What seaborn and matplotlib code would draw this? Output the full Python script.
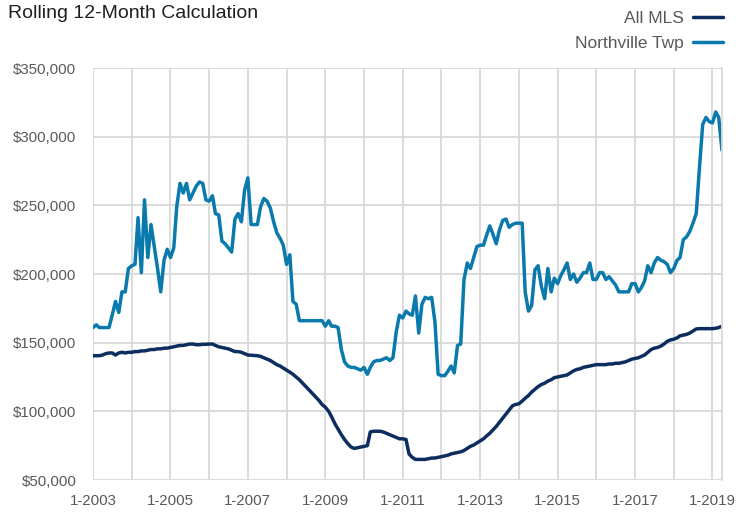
import matplotlib
matplotlib.use("Agg")
import matplotlib.pyplot as plt
import matplotlib.ticker as mticker
import pandas as pd
import seaborn as sns

# Rolling 12-month median sale price, in thousands of dollars, Jan 2003 - Apr 2019
all_mls = [
    140.5, 140.5, 140.5, 141, 142, 142.5, 142.5, 141, 142.5, 143, 142.5, 143,      # 2003
    143, 143.5, 143.5, 144, 144, 144.5, 145, 145, 145.5, 145.5, 146, 146,          # 2004
    146.5, 147, 147.5, 148, 148, 148.5, 149, 149, 148.5, 148.5, 148.8, 148.8,      # 2005
    149, 149, 148, 147, 146.5, 146, 145.5, 144.5, 143.5, 143.5, 143, 142,          # 2006
    141, 140.8, 140.7, 140.5, 140, 139, 138, 137, 135.5, 134, 133, 131.5,          # 2007
    130, 128.5, 127, 125, 123, 120.5, 118, 115.5, 113, 110.5, 108, 105,            # 2008
    103, 100, 96, 91, 87, 83, 79.5, 76.5, 74, 73, 73.5, 74,                        # 2009
    74.5, 75, 85, 85.5, 85.5, 85.5, 85, 84, 83, 82, 81, 80,                        # 2010
    80, 79.5, 69, 66.5, 65, 65, 65, 65, 65.5, 66, 66, 66.5,                        # 2011
    67, 67.5, 68, 69, 69.5, 70, 70.5, 71.5, 73, 74.5, 75.5, 77,                    # 2012
    78.5, 80, 82, 84, 86.5, 89, 92, 95, 98, 101, 104, 105,                         # 2013
    105.5, 107.5, 109.5, 111.5, 114, 116, 118, 119.5, 120.5, 122, 123, 124.5,      # 2014
    125, 125.5, 126, 126.5, 128, 129.5, 130.5, 131, 132, 132.5, 133, 133.5,        # 2015
    134, 134, 134, 134, 134.5, 134.5, 135, 135, 135.5, 136, 137, 138,              # 2016
    138.5, 139, 140, 141, 143, 145, 146, 146.5, 147.5, 149, 151, 152,              # 2017
    152.5, 153.5, 155, 155.5, 156, 157, 158.5, 160, 160.2, 160.2, 160.2, 160.2,    # 2018
    160.2, 160.5, 161, 162,                                                        # 2019
]

northville_twp = [
    161, 163, 161, 161, 161, 161, 170, 180, 172, 187, 187, 204,                    # 2003
    206, 207, 241, 201, 254, 212, 236, 220, 204, 187, 210, 218,                    # 2004
    212, 219, 249, 266, 259, 266, 254, 259, 264, 267, 266, 254,                    # 2005
    253, 257, 244, 243, 224, 222, 219, 216, 240, 244, 238, 261,                    # 2006
    270, 236, 236, 236, 249, 255, 253, 248, 238, 230, 226, 221,                    # 2007
    207, 214, 180, 178, 166, 166, 166, 166, 166, 166, 166, 166,                    # 2008
    162, 166, 162, 162, 161, 145, 136, 133, 132, 132, 131, 130,                    # 2009
    132, 127, 132, 136, 137, 137, 138, 139, 137, 139, 158, 170,                    # 2010
    168, 173, 171, 170, 184, 157, 178, 183, 182, 183, 165, 127,                    # 2011
    126, 126, 129, 133, 128, 148, 149, 196, 208, 204, 212, 220,                    # 2012
    221, 221, 228, 235, 229, 222, 232, 239, 240, 234, 236, 237,                    # 2013
    237, 237, 187, 173, 177, 203, 206, 191, 182, 204, 187, 197,                    # 2014
    193, 199, 203, 208, 196, 200, 194, 197, 201, 201, 208, 196,                    # 2015
    196, 201, 201, 196, 198, 195, 192, 187, 187, 187, 187, 193,                    # 2016
    193, 187, 190, 195, 206, 201, 208, 212, 210, 209, 207, 201,                    # 2017
    204, 210, 212, 225, 227, 231, 237, 244, 278, 309, 314, 311,                    # 2018
    310, 318, 314, 290,                                                            # 2019
]

series_names = ["All MLS", "Northville Twp"]
series_colors = ["#0c2d5e", "#0a7aad"]

x_tick_labels = ["1-2003", "", "1-2005", "", "1-2007", "", "1-2009", "", "1-2011",
                 "", "1-2013", "", "1-2015", "", "1-2017", "", "1-2019"]
y_ticks = [50000, 100000, 150000, 200000, 250000, 300000, 350000]

months = pd.date_range("2003-01-01", periods=len(all_mls), freq="MS")
df = pd.concat([
    pd.DataFrame({"month": months, "price": [v * 1000 for v in all_mls], "area": series_names[0]}),
    pd.DataFrame({"month": months, "price": [v * 1000 for v in northville_twp], "area": series_names[1]}),
])

sns.set_style("white")
plt.rcParams["font.family"] = ["Liberation Sans", "DejaVu Sans"]

W, H = 748, 515
fig = plt.figure(figsize=(W / 100, H / 100), dpi=100)
ax = fig.add_axes([93 / W, 1 - 480 / H, (722 - 93) / W, (480 - 68) / H])

sns.lineplot(data=df, x="month", y="price", hue="area", hue_order=series_names,
             palette=series_colors, linewidth=2.5, ax=ax, legend=False)

grid_color = "#d9d9d9"
ax.set_xlim(months[0], months[-1])
ax.set_ylim(y_ticks[0], y_ticks[-1])
year_starts = pd.date_range("2003-01-01", periods=len(x_tick_labels), freq="YS")
ax.set_xticks(year_starts)
ax.set_xticklabels(x_tick_labels)
ax.set_yticks(y_ticks)
ax.yaxis.set_major_formatter(mticker.FuncFormatter(lambda v, _: f"${v:,.0f}"))
ax.set_xlabel("")
ax.set_ylabel("")

ax.grid(True, color=grid_color, linewidth=1.3)
ax.set_axisbelow(True)
for side in ["top", "left", "bottom"]:
    ax.spines[side].set_visible(False)
ax.spines["right"].set_color(grid_color)
ax.spines["right"].set_linewidth(1.3)

ax.tick_params(axis="both", length=5, width=1.3, color=grid_color,
               labelcolor="#595959", labelsize=10.8)
ax.tick_params(axis="y", pad=7)
ax.tick_params(axis="x", pad=5)

fig.text(8 / W, 1 - 5 / H, "Rolling 12-Month Calculation", fontsize=14,
         color="#1f1f1f", ha="left", va="top")

handles = [plt.Line2D([], [], color=c, linewidth=2.5) for c in series_colors]
fig.legend(handles, series_names, loc="upper right", bbox_to_anchor=(726 / W, 1 - 7 / H),
           frameon=False, markerfirst=False, fontsize=12.5, labelcolor="#595959",
           handlelength=1.7, handletextpad=0.55, labelspacing=0.58, borderpad=0.2,
           borderaxespad=0)

fig.savefig("out.png", dpi=100)
